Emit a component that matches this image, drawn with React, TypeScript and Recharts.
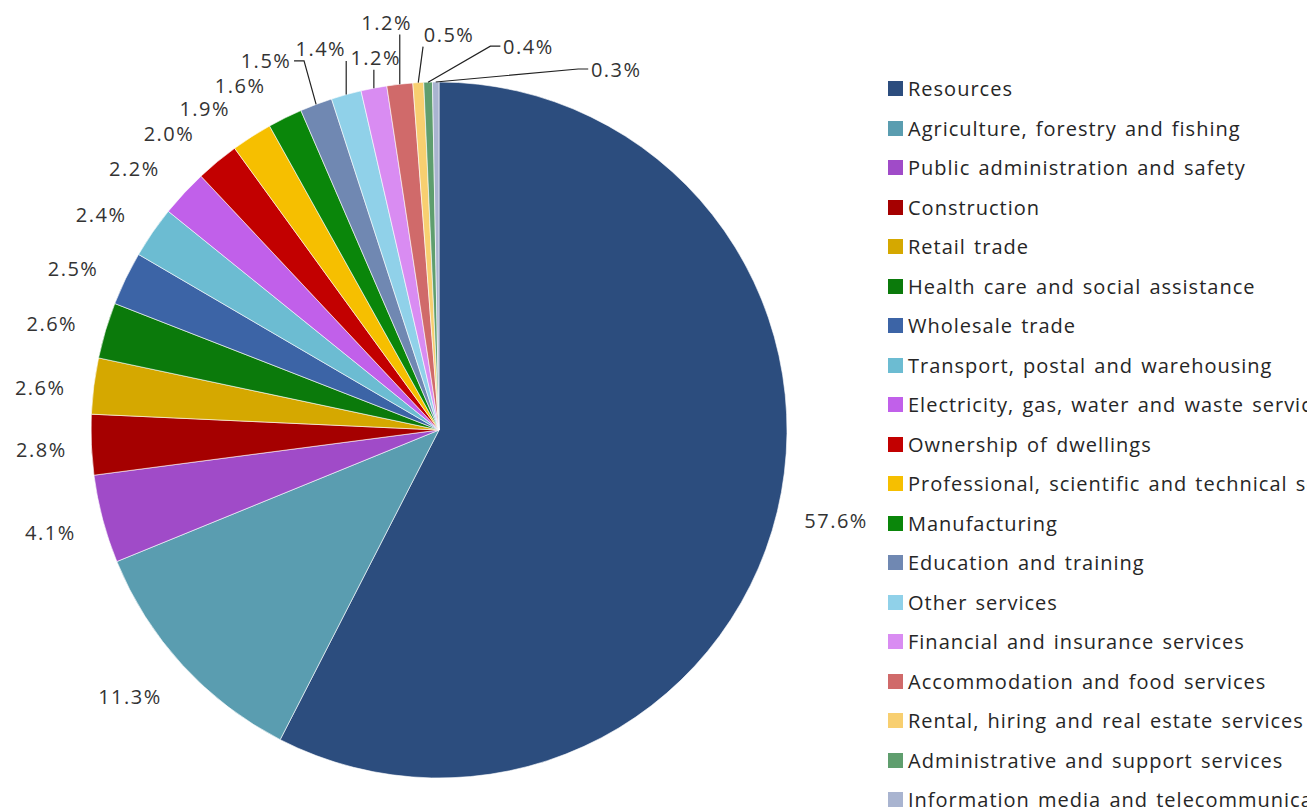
import React from "react";
import { PieChart, Pie, Cell, Legend } from "recharts";

// industry share, in order round the pie (clockwise from 12 o'clock)
const categories = [
  "Resources",
  "Agriculture, forestry and fishing",
  "Public administration and safety",
  "Construction",
  "Retail trade",
  "Health care and social assistance",
  "Wholesale trade",
  "Transport, postal and warehousing",
  "Electricity, gas, water and waste services",
  "Ownership of dwellings",
  "Professional, scientific and technical services",
  "Manufacturing",
  "Education and training",
  "Other services",
  "Financial and insurance services",
  "Accommodation and food services",
  "Rental, hiring and real estate services",
  "Administrative and support services",
  "Information media and telecommunications",
];

const shares = [57.6, 11.3, 4.1, 2.8, 2.6, 2.6, 2.5, 2.4, 2.2, 2.0, 1.9, 1.6, 1.5, 1.4, 1.2, 1.2, 0.5, 0.4, 0.3];

const sliceColors = [
  "#2c4d7e", "#5a9db0", "#a04bc8", "#a50000", "#d5a800", "#0b7a0b", "#3c64a6",
  "#6cbcd2", "#c160ea", "#c20000", "#f6bf00", "#0a860a", "#7088b2", "#90d1e9",
  "#d98cf2", "#d06a6a", "#f8cf70", "#5f9e6e", "#a9b4d0",
];

// label nudges (Excel moved the crowded ones at the top)
const labelShift: [number, number][] = [
  [0, 0], [-8, 6], [0, 4], [4, 3], [0, 6], [-2, 4], [-4, 7], [-7, 4], [-10, 1], [-14, 1],
  [-18, 4], [-21, 2], [-31, -8], [-11, -9], [12, 7], [-7, -24], [34, -10], [102, 2], [181, 25],
];
const leaderFrom = 12;

const data = categories.map((name, i) => ({ name, value: shares[i] }));

const RADIAN = Math.PI / 180;
const TEXT = "#333333";
const FONT = "'Open Sans', sans-serif";

const renderLabel = (props: any) => {
  const { cx, cy, midAngle, outerRadius, index, value } = props;
  const ux = Math.cos(-midAngle * RADIAN);
  const uy = Math.sin(-midAngle * RADIAN);
  const text = `${value.toFixed(1)}%`;
  const w = text.length * 13;
  const h = 20;
  const r0 = outerRadius + 28;
  const x = cx + (r0 + w / 2) * ux + labelShift[index][0];
  const y = cy + (r0 + h / 2) * uy + labelShift[index][1];

  let leader = null;
  if (index >= leaderFrom) {
    const ex = cx + outerRadius * ux;
    const ey = cy + outerRadius * uy;
    const x0 = x - w / 2;
    const x1 = x + w / 2;
    let pts = "";
    if (ex >= x0 - 6 && ex <= x1 + 6) {
      const ax = Math.min(Math.max(ex, x0), x1);
      pts = `${ax},${y + h / 2 + 2} ${ex},${ey}`;
    } else {
      const right = ex > x1;
      const ax = right ? x1 + 2 : x0 - 2;
      const bx = right ? ax + 10 : ax - 10;
      pts = `${ax},${y} ${bx},${y} ${ex},${ey}`;
    }
    leader = <polyline points={pts} fill="none" stroke="#222" strokeWidth={1.2} />;
  }

  return (
    <g key={`lbl-${index}`}>
      {leader}
      <text
        x={x}
        y={y}
        textAnchor="middle"
        dominantBaseline="central"
        fill={TEXT}
        fontSize={20}
        fontFamily={FONT}
        letterSpacing={1.5}
      >
        {text}
      </text>
    </g>
  );
};

const renderLegend = () => (
  <div style={{ fontFamily: FONT, fontSize: 20, color: "#262626", whiteSpace: "nowrap", letterSpacing: 1, wordSpacing: 2 }}>
    {categories.map((name, i) => (
      <div key={name} style={{ height: 39.5, display: "flex", alignItems: "center" }}>
        <span style={{ width: 15, height: 15, background: sliceColors[i], display: "inline-block", marginRight: 5, flex: "none" }} />
        <span>{name}</span>
      </div>
    ))}
  </div>
);

export default function App() {
  return (
    <div style={{ position: "absolute", left: 0, top: 0, width: 1307, height: 811, overflow: "hidden", background: "#fff" }}>
      <PieChart width={1307} height={811} margin={{ top: 0, right: 0, bottom: 0, left: 0 }}>
        <Pie
          data={data}
          dataKey="value"
          nameKey="name"
          cx={439}
          cy={430}
          outerRadius={348}
          startAngle={90}
          endAngle={-270}
          stroke="#ffffff"
          strokeWidth={0.6}
          label={renderLabel}
          labelLine={false}
          isAnimationActive={false}
        >
          {data.map((d, i) => (
            <Cell key={d.name} fill={sliceColors[i]} />
          ))}
        </Pie>
        <Legend
          layout="vertical"
          content={renderLegend}
          wrapperStyle={{ position: "absolute", left: 888, top: 69, width: 430 }}
        />
      </PieChart>
    </div>
  );
}
